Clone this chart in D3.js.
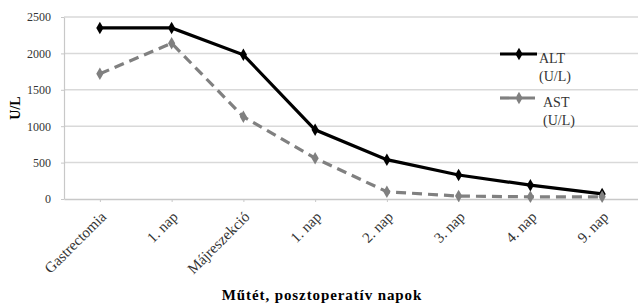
<!DOCTYPE html>
<html>
<head>
<meta charset="utf-8">
<script src="https://cdn.jsdelivr.net/npm/d3@7"></script>
<style>
  body { margin: 0; background: #fff; }
  svg { font-family: 'Liberation Serif', 'Times New Roman', serif; }
</style>
</head>
<body>
<div id="wrapper"></div>
<script>
const categories = ['Gastrectomia', '1. nap', 'Májreszekció', '1. nap', '2. nap', '3. nap', '4. nap', '9. nap'];
const altValues = [2350, 2350, 1980, 950, 540, 330, 190, 70];
const astValues = [1720, 2140, 1130, 560, 100, 40, 30, 30];
const yTicks = [0, 500, 1000, 1500, 2000, 2500];

const series = [
  { name: 'ALT', values: altValues, color: '#000', dash: null, legendY: 54, textX: 539 },
  { name: 'AST', values: astValues, color: '#808080', dash: '10,6', legendY: 98, textX: 543 },
];

const dimensions = {
  width: 638,
  height: 305,
  margin: { top: 17, right: 0, bottom: 106, left: 64 },
};
dimensions.boundedWidth = dimensions.width - dimensions.margin.left - dimensions.margin.right;
dimensions.boundedHeight = dimensions.height - dimensions.margin.top - dimensions.margin.bottom;

const xScale = d3.scalePoint()
  .domain(d3.range(categories.length))
  .range([0, dimensions.boundedWidth])
  .padding(0.5);

const yScale = d3.scaleLinear()
  .domain([0, 2500])
  .range([dimensions.boundedHeight, 0]);

const svg = d3.select('#wrapper')
  .append('svg')
  .attr('width', dimensions.width)
  .attr('height', dimensions.height);

const bounds = svg.append('g')
  .attr('transform', `translate(${dimensions.margin.left}, ${dimensions.margin.top})`);

// gridlines
bounds.append('g')
  .selectAll('line')
  .data(yTicks.filter((d) => d > 0))
  .join('line')
  .attr('x1', 0)
  .attr('x2', dimensions.boundedWidth)
  .attr('y1', (d) => yScale(d))
  .attr('y2', (d) => yScale(d))
  .attr('stroke', '#d9d9d9')
  .attr('stroke-width', 1.5);

// y axis
const yAxis = d3.axisLeft(yScale)
  .tickValues(yTicks)
  .tickFormat(d3.format('d'))
  .tickSize(3)
  .tickPadding(10)
  .tickSizeOuter(0);
const yAxisGroup = bounds.append('g').call(yAxis);
yAxisGroup.select('.domain').attr('stroke', '#c8c8c8').attr('stroke-width', 1.2);
yAxisGroup.selectAll('.tick line').attr('stroke', '#c8c8c8');
yAxisGroup.selectAll('text')
  .attr('fill', '#333')
  .style('font-size', '12px')
  .style('font-family', "'Liberation Serif', serif");

// x axis
const xAxis = d3.axisBottom(xScale)
  .tickFormat((i) => categories[i])
  .tickSize(3)
  .tickSizeOuter(0);
const xAxisGroup = bounds.append('g')
  .attr('transform', `translate(0, ${dimensions.boundedHeight})`)
  .call(xAxis);
xAxisGroup.select('.domain').attr('stroke', '#c8c8c8').attr('stroke-width', 1.5);
xAxisGroup.selectAll('.tick line').attr('stroke', '#c8c8c8');
xAxisGroup.selectAll('text')
  .attr('fill', '#333')
  .style('font-size', '15px')
  .style('font-family', "'Liberation Serif', serif")
  .attr('text-anchor', 'end')
  .attr('x', 0)
  .attr('y', 0)
  .attr('dy', '0.35em')
  .attr('transform', 'translate(3, 15) rotate(-45)');

// lines
const line = d3.line()
  .x((d, i) => xScale(i))
  .y((d) => yScale(d));

series.forEach((s) => {
  bounds.append('path')
    .datum(s.values)
    .attr('d', line)
    .attr('fill', 'none')
    .attr('stroke', s.color)
    .attr('stroke-width', 3.2)
    .attr('stroke-dasharray', s.dash);

  bounds.append('g')
    .selectAll('path')
    .data(s.values)
    .join('path')
    .attr('d', d3.symbol(d3.symbolDiamond, 45))
    .attr('transform', (d, i) => `translate(${xScale(i)}, ${yScale(d)})`)
    .attr('fill', s.color);
});

// legend
const legend = svg.append('g');
series.forEach((s) => {
  legend.append('line')
    .attr('x1', 500)
    .attr('x2', 537)
    .attr('y1', s.legendY)
    .attr('y2', s.legendY)
    .attr('stroke', s.color)
    .attr('stroke-width', 3.2)
    .attr('stroke-dasharray', s.dash ? '16,3' : null);
  legend.append('path')
    .attr('d', d3.symbol(d3.symbolDiamond, 45))
    .attr('transform', `translate(519, ${s.legendY})`)
    .attr('fill', s.color);
  const text = legend.append('text')
    .attr('x', s.textX)
    .attr('y', s.legendY + 9)
    .attr('fill', '#333')
    .style('font-size', '14px');
  text.append('tspan').text(s.name);
  text.append('tspan')
    .attr('x', s.textX)
    .attr('dy', 18)
    .text('(U/L)');
});

// axis titles
svg.append('text')
  .attr('transform', `translate(20, ${dimensions.margin.top + dimensions.boundedHeight / 2}) rotate(-90)`)
  .attr('text-anchor', 'middle')
  .style('font-size', '14px')
  .style('font-weight', 'bold')
  .text('U/L');

svg.append('text')
  .attr('x', 322)
  .attr('y', 300)
  .attr('text-anchor', 'middle')
  .style('font-size', '15px')
  .style('letter-spacing', '0.9px')
  .style('font-weight', 'bold')
  .text('Műtét, posztoperatív napok');
</script>
</body>
</html>
